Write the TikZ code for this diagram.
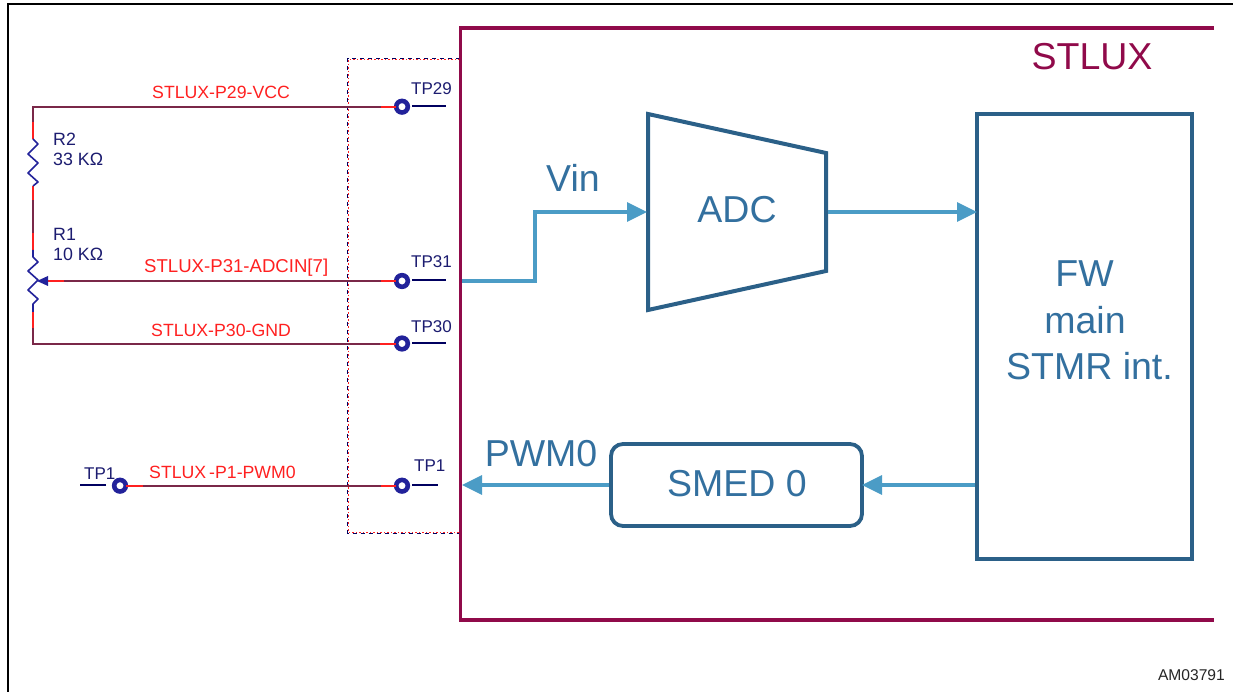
\documentclass[tikz,border=0pt]{standalone}
\usepackage{fontspec}
\setmainfont{Liberation Sans}
\usetikzlibrary{arrows.meta}
\definecolor{wine}{HTML}{900A4A}
\definecolor{wire}{HTML}{7A2848}
\definecolor{redw}{HTML}{FF2020}
\definecolor{navy}{HTML}{1C1C70}
\definecolor{stub}{HTML}{000060}
\definecolor{tpblue}{HTML}{22229A}
\definecolor{arrowblue}{HTML}{4B9CC6}
\definecolor{blockblue}{HTML}{2B6088}
\definecolor{blocktext}{HTML}{33709F}
\tikzset{
 x=1pt,y=-1pt,
 redlabel/.style={anchor=base west,inner sep=0pt,text=redw,font=\fontsize{17.7}{20}\selectfont},
 navylabel/.style={anchor=base west,inner sep=0pt,text=navy,font=\fontsize{17}{20}\selectfont},
 valuelabel/.style={navylabel,font=\fontsize{17.8}{20}\selectfont},
 biglabel/.style={anchor=base,inner sep=0pt,text=blocktext,font=\fontsize{37.5}{46}\selectfont},
 tp/.style={circle,draw=tpblue,fill=white,line width=4.6pt,minimum size=11.6pt,inner sep=0pt,outer sep=0pt},
 wireline/.style={draw=wire,line width=2pt},
 redpart/.style={draw=redw,line width=2pt},
 stubline/.style={draw=stub,line width=2pt},
 comp/.style={draw=tpblue,line width=1.6pt,line join=round},
 flow/.style={draw=arrowblue,line width=3.4pt,-{Triangle[length=20pt,width=19pt]}},
 thinflow/.style={flow,line width=3.2pt},
 blockbox/.style={draw=blockblue,line width=3.8pt,fill=white,inner sep=0pt,outer sep=0pt},
}
\begin{document}
\begin{tikzpicture}
\useasboundingbox (0,0) rectangle (1233,692);
\fill[white] (0,0) rectangle (1233,692);
% outer frame
\coordinate (frameA) at (8,692);
\coordinate (frameB) at (8,4);
\coordinate (frameC) at (1233,4);
\draw[black,line width=2.6pt] (frameA) -- (frameB) -- (frameC);
% STLUX block
\coordinate (stA) at (1214,28);
\coordinate (stB) at (460.5,28);
\coordinate (stC) at (460.5,620);
\coordinate (stD) at (1214,620);
% dashed area (navy dashes beside a red dash-dot line)
\coordinate (daA) at (460,58.6);
\coordinate (daB) at (347.6,58.6);
\coordinate (daC) at (347.6,533.2);
\coordinate (daD) at (460,533.2);
\coordinate (dbA) at (460,59.6);
\coordinate (dbB) at (348.6,59.6);
\coordinate (dbC) at (348.6,532.8);
\coordinate (dbD) at (460,532.8);
\draw[stub,line width=1.3pt,dash pattern=on 4pt off 4pt] (daA) -- (daB) -- (daC) -- (daD);
\draw[redw,line width=.7pt,dash pattern=on 2pt off 2pt on 1pt off 2pt] (dbA) -- (dbB) -- (dbC) -- (dbD);
\draw[wine,line width=3.2pt] (stA) -- (stB) -- (stC) -- (stD);
% test points
\node[tp] (tp29) at (402,106.7) {};
\node[tp] (tp31) at (402,281) {};
\node[tp] (tp30) at (402,343.5) {};
\node[tp] (tp1r) at (402,485.7) {};
\node[tp] (tp1l) at (120,485.7) {};
% stubs
\coordinate (s29a) at (412,106); \coordinate (s29b) at (446,106);
\coordinate (s31a) at (412,280); \coordinate (s31b) at (446,280);
\coordinate (s30a) at (412,343); \coordinate (s30b) at (446,343);
\coordinate (s1a) at (412,484.7); \coordinate (s1b) at (438,484.7);
\coordinate (s1c) at (106,484.7); \coordinate (s1d) at (80,484.7);
\draw[stubline] (s29a) -- (s29b);
\draw[stubline] (s31a) -- (s31b);
\draw[stubline] (s30a) -- (s30b);
\draw[stubline] (s1a) -- (s1b);
\draw[stubline] (s1c) -- (s1d);
% wires: top net
\coordinate (c1) at (33,106.7);
\coordinate (r2a) at (33,139);
\coordinate (r2b) at (33,186);
\coordinate (r1a) at (33,250);
\coordinate (r1t) at (33,257);
\coordinate (r1u) at (33,304);
\coordinate (r1b) at (33,312);
\coordinate (c2) at (33,343.5);
\draw[wireline,line join=miter] (tp29.west) -- (c1) -- (r2a);
\draw[redpart] (33,122) -- (r2a);
\draw[redpart] (381,106.7) -- (tp29.west);
\draw[wireline] (r2b) -- (r1a);
\draw[redpart] (r2b) -- (33,200);
\draw[redpart] (33,233) -- (r1a);
\draw[wireline,line join=miter] (r1b) -- (c2) -- (tp30.west);
\draw[redpart] (r1b) -- (33,328);
\draw[redpart] (380,343.5) -- (tp30.west);
% resistors
\draw[comp] (r2a) -- (38,144) -- (28,154) -- (38,163) -- (28,173) -- (38,182) -- (r2b);
\draw[comp] (r1a) -- (r1t) -- (38,262) -- (28,271) -- (38,280) -- (28,290) -- (38,299) -- (r1u) -- (r1b);
% wiper
\coordinate (wipertip) at (37,281);
\coordinate (wiperbase) at (48,281);
\draw[wireline] (tp31.west) -- (wiperbase);
\draw[redpart] (64,281) -- (wiperbase);
\draw[redpart] (381,281) -- (tp31.west);
\fill[tpblue] (wipertip) -- (48,276) -- (48,286) -- cycle;
% PWM wire
\draw[wireline] (tp1l.east) -- (tp1r.west);
\draw[redpart] (tp1l.east) -- (143,485.7);
\draw[redpart] (381,485.7) -- (tp1r.west);
% wire labels
\node[redlabel] (l29) at (152,99) {STLUX-P29-VCC};
\node[redlabel,font=\fontsize{18.6}{20}\selectfont] (l31) at (144,273) {STLUX-P31-ADCIN[7]};
\node[redlabel] (l30) at (151,336) {STLUX-P30-GND};
\node[redlabel] (l1) at (149,478) {STLUX\kern3pt-P1-PWM0};
\node[navylabel] (t29) at (411,95) {TP29};
\node[navylabel] (t31) at (411,268) {TP31};
\node[navylabel] (t30) at (411,332) {TP30};
\node[navylabel] (t1r) at (414,471) {TP1};
\node[navylabel] (t1l) at (84,479) {TP1};
\node[valuelabel] (nr2) at (53,146) {R2};
\node[valuelabel] (vr2) at (53,166) {33 KΩ};
\node[valuelabel] (nr1) at (53,241) {R1};
\node[valuelabel] (vr1) at (53,261) {10 KΩ};
% blocks
\coordinate (adc1) at (648,114);
\coordinate (adc2) at (826,153);
\coordinate (adc3) at (826,271);
\coordinate (adc4) at (648,310);
\draw[blockblue,line width=4pt,line join=miter] (adc1) -- (adc2) -- (adc3) -- (adc4) -- cycle;
\node[biglabel] (adc) at (737,223) {ADC};
\coordinate (adcin) at (647,212);
\coordinate (adcout) at (828,212);
\node[blockbox,anchor=north west,minimum width=215pt,minimum height=445pt] (fw) at (977,114) {};
\node[biglabel] (fwa) at (1084.5,287) {FW};
\node[biglabel] (fwb) at (1085,333) {main};
\node[biglabel] (fwc) at (1089.5,379) {STMR int.};
\node[blockbox,rounded corners=12pt,anchor=north west,minimum width=251pt,minimum height=82pt] (smed) at (611,444) {};
\node[biglabel] (smedt) at (737,496) {SMED 0};
% flows
\coordinate (vinA) at (462,281);
\coordinate (vinB) at (535,281);
\coordinate (vinC) at (535,212);
\draw[flow,line join=miter] (vinA) -- (vinB) -- (vinC) -- (adcin);
\draw[thinflow] (adcout) -- (fw.west|-adcout);
\coordinate (fwout) at (975,485);
\draw[thinflow] (fwout) -- (smed.east|-fwout);
\coordinate (frameIn) at (609,485);
\coordinate (frameEnd) at (462,485);
\draw[thinflow] (frameIn) -- (frameEnd);
% texts
\node[biglabel,text=wine] (st) at (1092,70) {STLUX};
\node[biglabel] (vin) at (573,192) {Vin};
\node[biglabel] (pwm) at (541,466) {PWM0};
\node[anchor=base east,inner sep=0pt,text=black!85,font=\fontsize{15.6}{18}\selectfont] (am) at (1225,680) {AM03791};
\end{tikzpicture}
\end{document}
